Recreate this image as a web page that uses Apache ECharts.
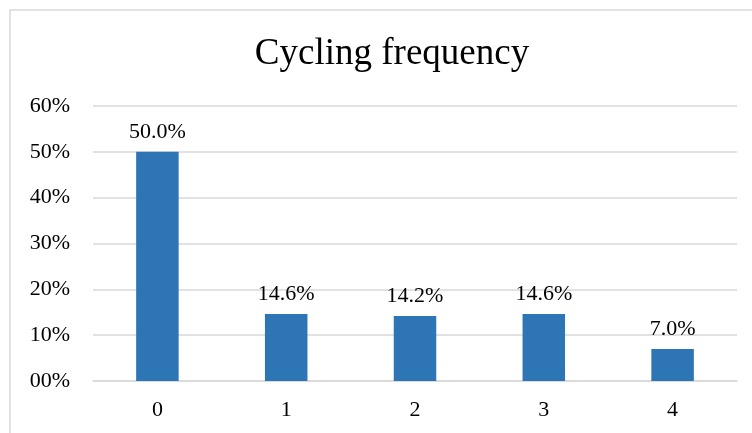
<!DOCTYPE html>
<html>
<head>
<meta charset="utf-8">
<script src="https://cdn.jsdelivr.net/npm/echarts@6/dist/echarts.min.js"></script>
<style>
  html, body { margin: 0; padding: 0; background: #fff; }
  #chart { width: 752px; height: 433px; }
</style>
</head>
<body>
<div id="chart"></div>
<script>
const categories = ['0', '1', '2', '3', '4']
const shares = [50.0, 14.6, 14.2, 14.6, 7.0]
const yTicks = [0, 10, 20, 30, 40, 50, 60]

const serif = '"Liberation Serif", "DejaVu Serif", serif'
const chart = echarts.init(document.getElementById('chart'))

chart.setOption({
  backgroundColor: '#fff',
  animation: false,
  title: {
    text: 'Cycling frequency',
    left: 387,
    top: 31,
    textAlign: 'center',
    textStyle: { fontFamily: serif, fontSize: 37, fontWeight: 'normal', color: '#000' }
  },
  graphic: [{
    type: 'polyline',
    shape: { points: [[10, 440], [10, 10], [760, 10]] },
    style: { stroke: '#d9d9d9', lineWidth: 1.5, fill: null }
  }],
  grid: { left: 93, right: 15, top: 106, bottom: 52 },
  xAxis: {
    type: 'category',
    data: categories,
    axisTick: { show: false },
    axisLine: { lineStyle: { color: '#d9d9d9', width: 1.5 } },
    axisLabel: { fontFamily: serif, fontSize: 22, color: '#000', margin: 18 }
  },
  yAxis: {
    type: 'value',
    min: yTicks[0],
    max: yTicks[yTicks.length - 1],
    interval: 10,
    axisLine: { show: false },
    axisTick: { show: false },
    splitLine: { lineStyle: { color: '#d9d9d9', width: 1.5 } },
    axisLabel: {
      fontFamily: serif, fontSize: 22, color: '#000', margin: 23,
      formatter: v => String(v).padStart(2, '0') + '%'
    }
  },
  series: [{
    type: 'bar',
    data: shares,
    barWidth: '33%',
    itemStyle: { color: '#2E75B6' },
    label: {
      show: true,
      position: 'top',
      distance: 9,
      fontFamily: serif,
      fontSize: 22,
      color: '#000',
      formatter: p => p.value.toFixed(1) + '%'
    }
  }]
})
</script>
</body>
</html>
